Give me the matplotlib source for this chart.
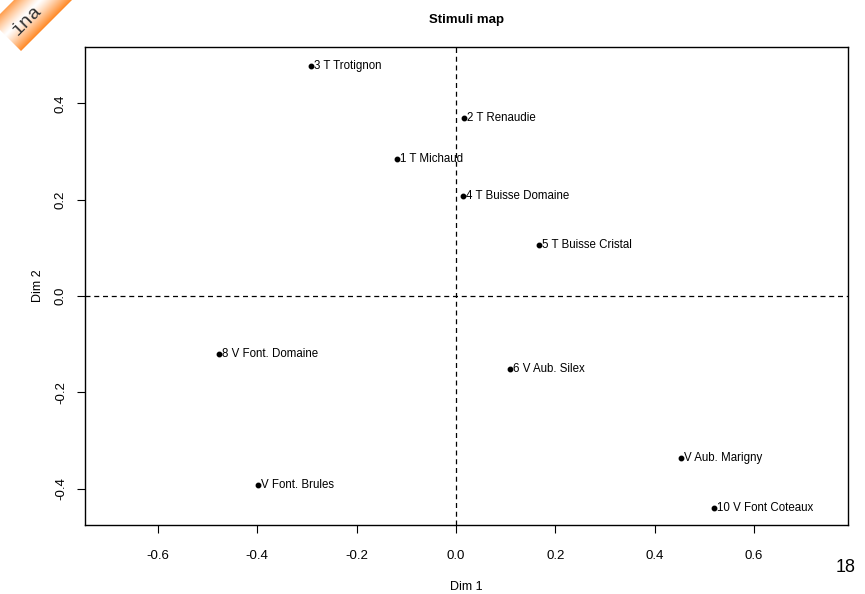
import numpy as np
import matplotlib
matplotlib.use("Agg")
import matplotlib.pyplot as plt
from matplotlib.patches import Polygon

plt.rcParams['font.family'] = ['Liberation Sans', 'DejaVu Sans']

# Stimulus coordinates on the first two dimensions
labels = ["3 T Trotignon", "2 T Renaudie", "1 T Michaud", "4 T Buisse Domaine",
          "5 T Buisse Cristal", "8 V Font. Domaine", "6 V Aub. Silex",
          "V Aub. Marigny", "V Font. Brules", "10 V Font Coteaux"]
dim1 = [-0.292, 0.016, -0.119, 0.014, 0.167, -0.477, 0.109, 0.453, -0.398, 0.519]
dim2 = [0.477, 0.369, 0.284, 0.208, 0.106, -0.120, -0.152, -0.336, -0.392, -0.440]

x_ticks = [-0.6, -0.4, -0.2, 0.0, 0.2, 0.4, 0.6]
y_ticks = [-0.4, -0.2, 0.0, 0.2, 0.4]

W, H = 865, 594
fig = plt.figure(figsize=(W / 100, H / 100), dpi=100)
ax = fig.add_axes([85 / W, 1 - 525 / H, (848 - 85) / W, (525 - 47) / H])

ax.axhline(0, color="black", lw=0.9, ls=(0, (4, 3)), zorder=1)
ax.axvline(0, color="black", lw=0.9, ls=(0, (4, 3)), zorder=1)
ax.plot(dim1, dim2, "o", color="black", ms=3.2, zorder=3)
for lab, x, y in zip(labels, dim1, dim2):
    ax.annotate(lab, (x, y), xytext=(2, 0), textcoords="offset points",
                ha="left", va="center", fontsize=8.3, color="black")

ax.set_xlim(-0.7465, 0.789)
ax.set_ylim(-0.475, 0.517)
ax.set_xticks(x_ticks)
ax.set_xticklabels([f"{v:.1f}" for v in x_ticks], fontsize=9.5)
ax.set_yticks(y_ticks)
ax.set_yticklabels([f"{v:.1f}" for v in y_ticks], fontsize=9.5, rotation=90, va="center")
ax.tick_params(axis="x", direction="out", length=6, width=0.8, pad=12, colors="black")
ax.tick_params(axis="y", direction="out", length=6, width=0.8, pad=7, colors="black")
for s in ax.spines.values():
    s.set_linewidth(1.0)
    s.set_color("black")

ax.set_title("Stimuli map", fontsize=9.5, fontweight="bold", pad=17)
ax.set_xlabel("Dim 1", fontsize=9, labelpad=14)
ax.set_ylabel("Dim 2", fontsize=9, labelpad=8)

# Overlay in pixel coordinates for the corner ribbon and page number
ov = fig.add_axes([0, 0, 1, 1], zorder=10)
ov.set_xlim(0, W)
ov.set_ylim(H, 0)
ov.axis("off")
ov.patch.set_alpha(0)

gx, gy = np.meshgrid(np.arange(0, 90, 0.5), np.arange(0, 70, 0.5))
t = (gx + gy - 14) / (72 - 14)
t = np.clip(t, 0, 1)
w = np.abs(t - 0.45) / 0.55
w = np.clip(w, 0, 1)
orange = np.array([1.0, 0.52, 0.12])
white = np.array([1.0, 1.0, 1.0])
img = white[None, None, :] * (1 - w[..., None] ** 1.2) + orange[None, None, :] * (w[..., None] ** 1.2)
im = ov.imshow(img, extent=(0, 90, 70, 0), zorder=1, interpolation="bilinear")
ribbon = Polygon([(14, 0), (72, 0), (21, 51), (0, 30), (0, 14)], closed=True,
                 transform=ov.transData, facecolor="none", edgecolor="none")
ov.add_patch(ribbon)
im.set_clip_path(ribbon)
ov.text(27, 20, "ina", rotation=45, ha="center", va="center", fontsize=14,
        family=["Liberation Mono", "DejaVu Sans Mono"], color="#333333", zorder=2)

ov.text(846, 567, "18", ha="center", va="center", fontsize=13, color="black")

fig.savefig("out.png", dpi=100)
